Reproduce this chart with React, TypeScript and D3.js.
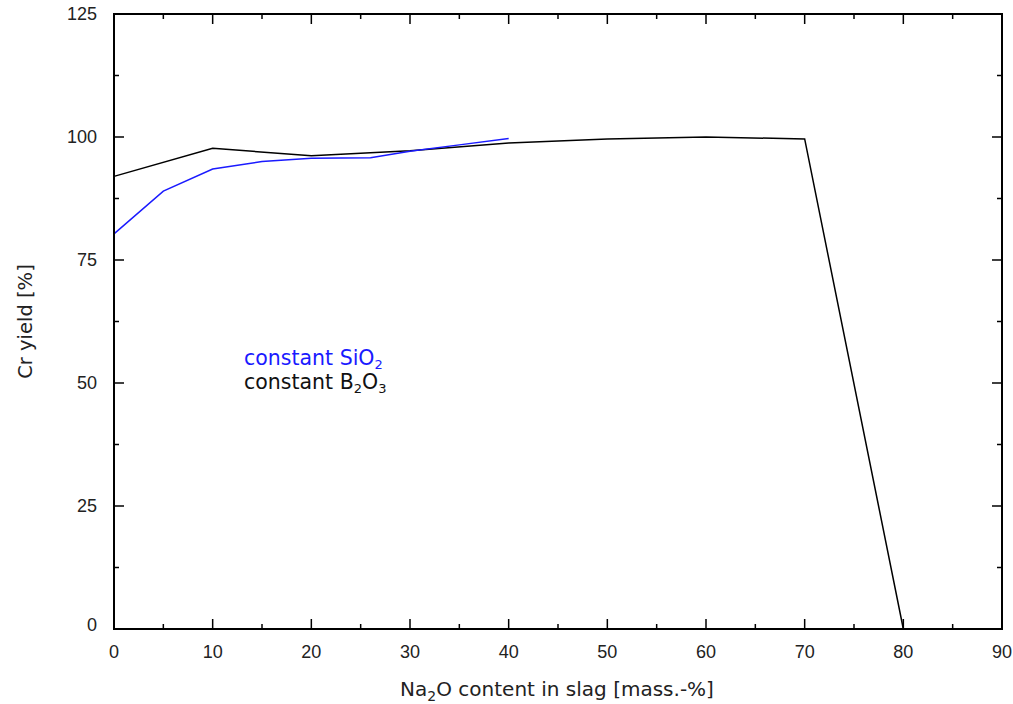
import React from "react";
import * as d3 from "d3";

// Cr yield vs Na2O content, two slag series
const naConstSiO2 = [0, 5, 10, 15, 20, 26, 30, 35, 40];
const yieldConstSiO2 = [80.3, 89, 93.5, 95, 95.7, 95.8, 97.1, 98.4, 99.7];

const naConstB2O3 = [0, 10, 20, 30, 40, 50, 60, 70, 80];
const yieldConstB2O3 = [92, 97.7, 96.2, 97.2, 98.8, 99.6, 100, 99.6, 0];

const xTicks = [0, 10, 20, 30, 40, 50, 60, 70, 80, 90];
const xMinor = [5, 15, 25, 35, 45, 55, 65, 75, 85];
const yTicks = [0, 25, 50, 75, 100, 125];
const yMinor = [12.5, 37.5, 62.5, 87.5, 112.5];

const W = 1013;
const H = 704;
const L = 114, R = 1002, T = 14, B = 629;
const TICK_FONT = "Liberation Sans, Arial, sans-serif";
const LABEL_FONT = "DejaVu Sans, Verdana, sans-serif";

export default function App() {
  const x = d3.scaleLinear().domain([0, 90]).range([L, R]);
  const y = d3.scaleLinear().domain([0, 125]).range([B, T]);
  const line = d3
    .line<[number, number]>()
    .x((d) => x(d[0]))
    .y((d) => y(d[1]));
  const blue = naConstSiO2.map((v, i) => [v, yieldConstSiO2[i]] as [number, number]);
  const black = naConstB2O3.map((v, i) => [v, yieldConstB2O3[i]] as [number, number]);
  const major = 10, minor = 5;

  return (
    <svg
      width={W}
      height={H}
      style={{ position: "absolute", left: 0, top: 0, background: "#fff" }}
    >
      <rect x={0} y={0} width={W} height={H} fill="#fff" />
      <g stroke="#000" strokeWidth={1.5}>
        {xTicks.map((t) => (
          <g key={"xt" + t}>
            <line x1={x(t)} x2={x(t)} y1={B} y2={B - major} />
            <line x1={x(t)} x2={x(t)} y1={T} y2={T + major} />
          </g>
        ))}
        {xMinor.map((t) => (
          <g key={"xm" + t}>
            <line x1={x(t)} x2={x(t)} y1={B} y2={B - minor} />
            <line x1={x(t)} x2={x(t)} y1={T} y2={T + minor} />
          </g>
        ))}
        {yTicks.map((t) => (
          <g key={"yt" + t}>
            <line x1={L} x2={L + major} y1={y(t)} y2={y(t)} />
            <line x1={R} x2={R - major} y1={y(t)} y2={y(t)} />
          </g>
        ))}
        {yMinor.map((t) => (
          <g key={"ym" + t}>
            <line x1={L} x2={L + minor} y1={y(t)} y2={y(t)} />
            <line x1={R} x2={R - minor} y1={y(t)} y2={y(t)} />
          </g>
        ))}
      </g>
      <path d={line(black) || ""} fill="none" stroke="#000" strokeWidth={1.5} />
      <path d={line(blue) || ""} fill="none" stroke="#1a1aff" strokeWidth={1.5} />
      <rect x={L} y={T} width={R - L} height={B - T} fill="none" stroke="#000" strokeWidth={2} />
      <g fontSize={18} fill="#222" fontFamily={TICK_FONT}>
        {xTicks.map((t) => (
          <text key={"xl" + t} x={x(t)} y={658} textAnchor="middle">
            {t}
          </text>
        ))}
        {yTicks.map((t) => (
          <text key={"yl" + t} x={97} y={Math.min(y(t) + 6, B + 2)} textAnchor="end">
            {t}
          </text>
        ))}
      </g>
      <g fontFamily={LABEL_FONT} fill="#222">
        <text x={557} y={696} textAnchor="middle" fontSize={20}>
          Na<tspan fontSize={14} dy={5}>2</tspan>
          <tspan dy={-5}>O content in slag [mass.-%]</tspan>
        </text>
        <text
          transform={`translate(32,${(T + B) / 2}) rotate(-90)`}
          textAnchor="middle"
          fontSize={19.5}
        >
          Cr yield [%]
        </text>
        <text x={244} y={365} fontSize={20.5} fill="#1a1aff">
          constant SiO<tspan fontSize={13} dy={4}>2</tspan>
        </text>
        <text x={244} y={389} fontSize={20.5} fill="#111">
          constant B<tspan fontSize={13} dy={4}>2</tspan>
          <tspan dy={-4}>O</tspan>
          <tspan fontSize={13} dy={4}>3</tspan>
        </text>
      </g>
    </svg>
  );
}
